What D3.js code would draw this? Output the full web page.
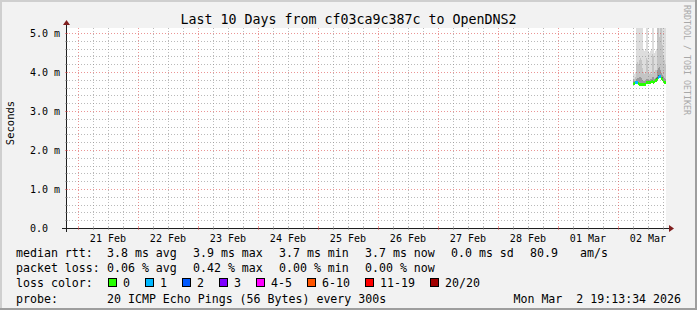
<!DOCTYPE html>
<html>
<head>
<meta charset="utf-8">
<script src="https://cdn.jsdelivr.net/npm/d3@7"></script>
<style>
  body { margin: 0; background: #f2f2f2; }
  svg { display: block; }
  text { font-family: "DejaVu Sans Mono", monospace; white-space: pre; }
</style>
</head>
<body>
<svg id="chart"></svg>
<script>
// ---- data ----
const graphEnd = "2026-03-02T19:13:34Z";
const sampleStart = "2026-03-02T06:00:00Z";
const sampleStepMin = 24; // one pixel column of the rrd graph

// median rtt in ms, one value per column
const median = [3.71, 3.71, 3.73, 3.73, 3.73, 3.70, 3.69, 3.68, 3.68, 3.68,
  3.68, 3.68, 3.69, 3.72, 3.74, 3.74, 3.74, 3.74, 3.75, 3.75,
  3.74, 3.75, 3.78, 3.79, 3.80, 3.87, 3.88, 3.88, 3.83, 3.82,
  3.76, 3.73, 3.73, 3.73];
// lost pings out of 20
const lossCount = [0, 0, 1, 1, 1, 0, 0, 0, 0, 0,
  0, 0, 0, 0, 0, 0, 0, 0, 0, 0,
  0, 0, 0, 0, 0, 1, 1, 1, 0, 0,
  0, 0, 0, 0];
// sorted ping values (smoke)
const pingMin = [3.67, 3.67, 3.69, 3.69, 3.69, 3.66, 3.65, 3.64, 3.64, 3.64,
  3.64, 3.64, 3.65, 3.68, 3.70, 3.70, 3.70, 3.70, 3.71, 3.71,
  3.70, 3.71, 3.74, 3.75, 3.76, 3.82, 3.84, 3.84, 3.79, 3.78,
  3.72, 3.69, 3.69, 3.69];
const ping12 = [3.74, 3.74, 3.76, 3.76, 3.76, 3.73, 3.72, 3.71, 3.71, 3.72,
  3.71, 3.71, 3.72, 3.76, 3.78, 3.77, 3.77, 3.78, 3.79, 3.78,
  3.78, 3.79, 3.82, 3.84, 3.87, 3.92, 3.93, 3.93, 3.88, 3.86,
  3.80, 3.77, 3.76, 3.76];
const ping15 = [3.76, 3.76, 3.78, 3.82, 3.84, 3.84, 3.86, 3.88, 3.84, 3.80,
  3.76, 3.76, 3.76, 3.82, 3.82, 3.80, 3.80, 3.82, 3.82, 3.86,
  3.86, 3.82, 3.85, 3.88, 4.05, 4.10, 4.12, 4.05, 3.98, 3.92,
  3.88, 3.84, 3.82, 3.80];
const ping18 = [3.82, 3.82, 3.86, 4.20, 4.25, 4.20, 4.30, 4.35, 4.30, 4.10,
  4.00, 3.95, 4.00, 4.35, 4.30, 3.95, 3.95, 4.00, 3.95, 4.45,
  4.40, 4.00, 4.05, 4.05, 5.40, 5.40, 4.90, 5.40, 5.40, 4.70,
  4.40, 4.30, 4.20, 3.90];
const pingMax = [3.95, 3.95, 4.00, 6.0, 6.0, 6.0, 6.0, 6.0, 6.0, 6.0,
  4.60, 4.55, 4.60, 6.0, 6.0, 4.55, 4.50, 4.55, 4.60, 6.0,
  6.0, 4.50, 4.55, 4.60, 6.0, 6.0, 6.0, 6.0, 6.0, 6.0,
  6.0, 6.0, 6.0, 4.80];

const yTicks = [0, 1, 2, 3, 4, 5];
const yTickLabels = ["0.0", "1.0 m", "2.0 m", "3.0 m", "4.0 m", "5.0 m"];

const lossLabels = ["0", "1", "2", "3", "4-5", "6-10", "11-19", "20/20"];
const lossUpper = [0, 1, 2, 3, 5, 10, 19, 20];
const lossColors = ["#26ff00", "#00b8ff", "#0059ff", "#7e00ff", "#ff00ff", "#ff5500", "#ff0000", "#a10000"];

const rttStats = ["3.8 ms avg", "3.9 ms max", "3.7 ms min", "3.7 ms now", "0.0 ms sd", "80.9", "am/s"];
const lossStats = ["0.06 % avg", "0.42 % max", "0.00 % min", "0.00 % now"];

// ---- layout ----
const width = 697;
const height = 310;
const plotL = 66, plotR = 666, plotT = 28, plotB = 228;
const minorCol = "rgba(140,140,140,0.6)", majorCol = "rgba(222,79,79,0.6)";

const svg = d3.select("#chart").attr("width", width).attr("height", height);

svg.append("rect").attr("width", width).attr("height", height).attr("fill", "#f2f2f2");
// 3d frame
svg.append("path").attr("d", `M1,${height} V1 H${width}`).attr("fill", "none")
  .attr("stroke", "#cfcfcf").attr("stroke-width", 2);
svg.append("path").attr("d", `M0,${height - 1} H${width - 1} V0`).attr("fill", "none")
  .attr("stroke", "#9e9e9e").attr("stroke-width", 2);

// canvas
svg.append("rect").attr("x", plotL).attr("y", plotT)
  .attr("width", plotR - plotL).attr("height", plotB - plotT).attr("fill", "#ffffff");

const tEnd = new Date(graphEnd);
const tStart = new Date(+tEnd - 10 * 864e5);
const x = d3.scaleUtc().domain([tStart, tEnd]).range([plotL, plotR]);
const y = d3.scaleLinear().domain([0, (plotB - plotT) / 39]).range([plotB, plotT]);

const step = sampleStepMin * 60000;
const rows = median.map((m, i) => ({
  t: new Date(Date.parse(sampleStart) + i * step),
  median: m,
  loss: lossCount[i],
  min: pingMin[i], p12: ping12[i], p15: ping15[i], p18: ping18[i], max: pingMax[i]
}));

svg.append("clipPath").attr("id", "plot")
  .append("rect").attr("x", plotL).attr("y", plotT)
  .attr("width", plotR - plotL).attr("height", plotB - plotT);

const g = svg.append("g").attr("clip-path", "url(#plot)");

// smoke, outer band first (smokeping grey levels)
const bands = [
  { hi: "max", color: "#dddddd" },
  { hi: "p18", color: "#c4c4c4" },
  { hi: "p15", color: "#9a9a9a" },
  { hi: "p12", color: "#5a5a5a" }
];
bands.forEach(b => {
  g.append("g").selectAll("rect")
    .data(rows)
    .join("rect")
    .attr("shape-rendering", "crispEdges")
    .attr("x", d => x(d.t))
    .attr("width", d => x(new Date(+d.t + step)) - x(d.t))
    .attr("y", d => y(d[b.hi]))
    .attr("height", d => y(d.min) - y(d[b.hi]))
    .attr("fill", b.color);
});

// grid (drawn over the smoke like rrdtool does)
const grid = svg.append("g").attr("fill", "none").attr("stroke-dasharray", "1,2");
const minorY = d3.range(0, 5.01, 0.2).filter(v => Math.abs(v - Math.round(v)) > 1e-6);
grid.selectAll(".my").data(minorY).join("line")
  .attr("x1", plotL).attr("x2", plotR)
  .attr("y1", d => Math.round(y(d)) + 0.5).attr("y2", d => Math.round(y(d)) + 0.5)
  .attr("stroke", minorCol);
const minorX = d3.utcHour.every(6).range(tStart, tEnd).filter(d => d.getUTCHours() !== 0);
grid.selectAll(".mx").data(minorX).join("line")
  .attr("x1", d => Math.round(x(d)) + 0.5).attr("x2", d => Math.round(x(d)) + 0.5)
  .attr("y1", plotT).attr("y2", plotB)
  .attr("stroke", minorCol);
grid.selectAll(".My").data(yTicks.slice(1)).join("line")
  .attr("x1", plotL).attr("x2", plotR)
  .attr("y1", d => Math.round(y(d)) + 0.5).attr("y2", d => Math.round(y(d)) + 0.5)
  .attr("stroke", majorCol);
const days = d3.utcDay.range(tStart, tEnd);
grid.selectAll(".Mx").data(days).join("line")
  .attr("x1", d => Math.round(x(d)) + 0.5).attr("x2", d => Math.round(x(d)) + 0.5)
  .attr("y1", plotT).attr("y2", plotB)
  .attr("stroke", majorCol);

// median, coloured by loss
const lossColor = n => lossColors[lossUpper.findIndex(u => n <= u)];
g.append("g").selectAll("rect")
  .data(rows)
  .join("rect")
  .attr("shape-rendering", "crispEdges")
  .attr("x", d => x(d.t))
  .attr("width", d => x(new Date(+d.t + step)) - x(d.t))
  .attr("y", d => y(d.median) - 1.5)
  .attr("height", 3)
  .attr("fill", d => lossColor(d.loss));

// axes
const axisCol = "#1f1f1f", arrowCol = "#801f1f";
svg.append("line").attr("x1", plotL - 4).attr("x2", plotR + 4)
  .attr("y1", plotB + 0.5).attr("y2", plotB + 0.5).attr("stroke", axisCol);
svg.append("line").attr("x1", plotL + 0.5).attr("x2", plotL + 0.5)
  .attr("y1", plotB + 4).attr("y2", plotT - 4).attr("stroke", axisCol);
svg.append("path").attr("d", `M${plotR + 3},${plotB - 3} L${plotR + 8},${plotB + 0.5} L${plotR + 3},${plotB + 4} Z`)
  .attr("fill", arrowCol);
svg.append("path").attr("d", `M${plotL - 3},${plotT - 3} L${plotL + 0.5},${plotT - 8} L${plotL + 4},${plotT - 3} Z`)
  .attr("fill", arrowCol);

// small axis ticks
svg.append("g").selectAll("line").data(minorX.concat(days)).join("line")
  .attr("x1", d => Math.round(x(d)) + 0.5).attr("x2", d => Math.round(x(d)) + 0.5)
  .attr("y1", plotB - 1).attr("y2", plotB + 2)
  .attr("stroke", d => d.getUTCHours() === 0 ? majorCol : minorCol);
svg.append("g").selectAll("line").data(minorY.concat(yTicks.slice(1))).join("line")
  .attr("x1", plotL - 1).attr("x2", plotL + 2)
  .attr("y1", d => Math.round(y(d)) + 0.5).attr("y2", d => Math.round(y(d)) + 0.5)
  .attr("stroke", d => Math.abs(d - Math.round(d)) < 1e-6 ? majorCol : minorCol);

// tick labels
svg.append("g").selectAll("text").data(yTicks).join("text")
  .attr("x", 30).attr("y", d => y(d) + 3.6)
  .attr("font-size", 10).attr("fill", "#000")
  .text((d, i) => yTickLabels[i]);

const fmtDay = d3.utcFormat("%d %b");
svg.append("g").selectAll("text").data(days).join("text")
  .attr("x", d => x(new Date(+d + 12 * 3600e3)))
  .attr("y", 242)
  .attr("text-anchor", "middle")
  .attr("font-size", 10).attr("fill", "#000")
  .text(d => fmtDay(d));

// title, unit, watermark
svg.append("text").attr("x", width / 2).attr("y", 24)
  .attr("text-anchor", "middle").attr("font-size", 13.3)
  .text("Last 10 Days from cf03ca9c387c to OpenDNS2");
svg.append("text").attr("transform", "translate(14,123) rotate(-90)")
  .attr("text-anchor", "middle").attr("font-size", 10.5)
  .text("Seconds");
svg.append("text").attr("transform", "translate(684,5) rotate(90)")
  .attr("font-size", 8.3).attr("fill", "#a8a8a8")
  .text("RRDTOOL / TOBI OETIKER");

// legend
const lg = svg.append("g").attr("font-size", 11.6).attr("fill", "#000");
const rowY = [257, 272, 287, 303];
lg.append("text").attr("x", 16).attr("y", rowY[0]).text("median rtt:");
const rttX = [107, 193, 279, 365, 451, 530, 580];
rttStats.forEach((s, i) => lg.append("text").attr("x", rttX[i]).attr("y", rowY[0]).text(s));
lg.append("text").attr("x", 16).attr("y", rowY[1]).text("packet loss:");
lossStats.forEach((s, i) => lg.append("text").attr("x", rttX[i]).attr("y", rowY[1]).text(s));
lg.append("text").attr("x", 16).attr("y", rowY[2]).text("loss color:");
const boxX = [108, 145, 182, 219, 256, 307, 365, 430];
lossLabels.forEach((s, i) => {
  lg.append("rect").attr("x", boxX[i] + 0.5).attr("y", rowY[2] - 8.5)
    .attr("width", 8).attr("height", 8)
    .attr("fill", lossColors[i]).attr("stroke", "#000");
  lg.append("text").attr("x", boxX[i] + 15).attr("y", rowY[2]).text(s);
});
lg.append("text").attr("x", 16).attr("y", rowY[3]).text("probe:");
lg.append("text").attr("x", 107).attr("y", rowY[3]).text("20 ICMP Echo Pings (56 Bytes) every 300s");
lg.append("text").attr("x", 681).attr("y", rowY[3]).attr("text-anchor", "end")
  .text("Mon Mar  2 19:13:34 2026");
</script>
</body>
</html>
